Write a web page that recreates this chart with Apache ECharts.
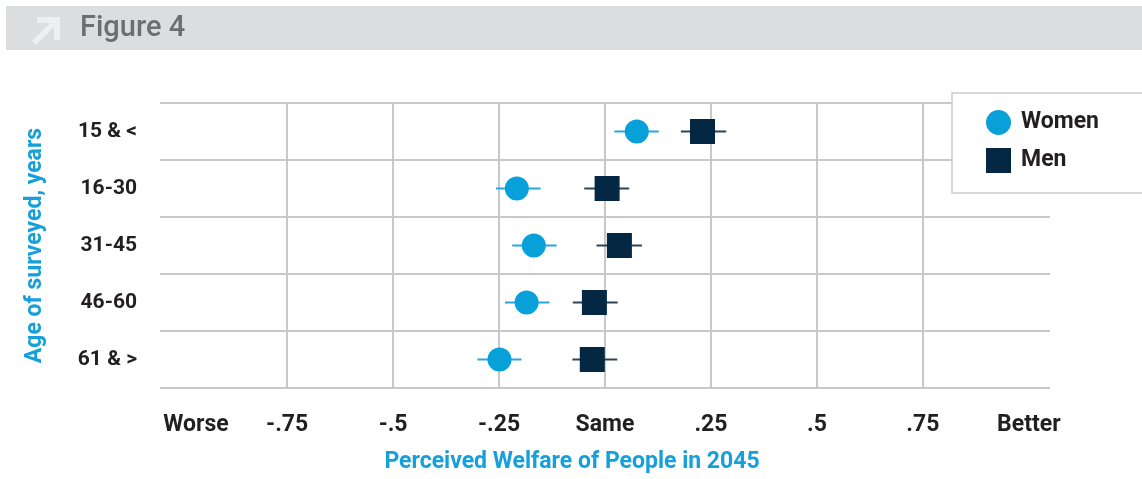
<!DOCTYPE html>
<html lang="en">
<head>
    <meta charset="UTF-8">
    <title>Figure 4</title>
    <script type="text/javascript" src="https://cdn.jsdelivr.net/npm/echarts@6/dist/echarts.min.js"></script>
    <style>
        html, body { margin: 0; padding: 0; background: #fff; }
        #main { width: 1142px; height: 479px; }
    </style>
</head>
<body>
<div id="main"></div>
<script type="text/javascript">
    // age groups, top to bottom
    var ageGroups = ['15 & <', '16-30', '31-45', '46-60', '61 & >'];

    // point estimates
    var women = [0.075, -0.208, -0.168, -0.185, -0.249];
    var men = [0.23, 0.005, 0.034, -0.025, -0.03];

    // error bar ends
    var womenLow = [0.022, -0.257, -0.219, -0.236, -0.301];
    var womenHigh = [0.127, -0.152, -0.114, -0.131, -0.197];
    var menLow = [0.179, -0.049, -0.020, -0.076, -0.077];
    var menHigh = [0.286, 0.057, 0.087, 0.030, 0.029];

    // x axis: grid lines and labels
    var gridValues = [-0.75, -0.5, -0.25, 0, 0.25, 0.5, 0.75];
    var labelValues = [-0.965, -0.75, -0.5, -0.25, 0, 0.25, 0.5, 0.75, 1.0];
    var labelTexts = ['Worse', '-.75', '-.5', '-.25', 'Same', '.25', '.5', '.75', 'Better'];

    var font = 'Roboto';
    var myChart = echarts.init(document.getElementById('main'));

    function pts(vals) {
        var out = [];
        for (var i = 0; i < vals.length; i++) out.push([vals[i], i]);
        return out;
    }
    function bars(lo, hi) {
        var out = [];
        for (var i = 0; i < lo.length; i++) out.push([lo[i], hi[i], i]);
        return out;
    }
    // horizontal error bar drawn through the axes' own scales
    function errorBar(color) {
        return function (params, api) {
            var a = api.coord([api.value(0), api.value(2)]);
            var b = api.coord([api.value(1), api.value(2)]);
            return {
                type: 'line',
                shape: { x1: a[0], y1: a[1], x2: b[0], y2: b[1] },
                style: { stroke: color, lineWidth: 2 }
            };
        };
    }

    var option = {
        animation: false,
        textStyle: { fontFamily: font },
        graphic: [
            { type: 'rect', left: 6, top: 6, shape: { width: 1136, height: 44 }, style: { fill: '#dcdddf' }, z: 0 },
            { type: 'polygon', shape: { points: [[37, 17], [60, 17], [60, 40], [54, 40], [54, 27], [36, 45], [32, 41], [50, 23], [37, 23]] }, style: { fill: '#eeeff0' } },
            { type: 'text', left: 80, top: 14, style: { text: 'Figure 4', fill: '#6d6e70', font: '500 29px ' + font } }
        ],
        legend: {
            orient: 'vertical',
            left: 952,
            top: 93,
            padding: [17, 60, 20, 34],
            itemGap: 13,
            itemWidth: 25,
            itemHeight: 25,
            backgroundColor: '#fff',
            borderColor: '#cccccc',
            borderWidth: 1.5,
            borderRadius: 0,
            textStyle: { fontSize: 23, fontWeight: 'bold', color: '#231f20', fontFamily: font, padding: [0, 0, 0, 5] },
            data: [
                { name: 'Women', icon: 'circle' },
                { name: 'Men', icon: 'rect' }
            ]
        },
        grid: { left: 160, right: 92, top: 103, bottom: 87 },
        xAxis: {
            type: 'value',
            min: -1.05,
            max: 1.05,
            name: 'Perceived Welfare of People in 2045',
            nameLocation: 'middle',
            nameGap: 63,
            nameTextStyle: { color: '#16a0db', fontSize: 23, fontWeight: 'bold', padding: [0, 66, 0, 0] },
            axisLine: { lineStyle: { color: '#c8c8c8', width: 2 } },
            axisTick: { show: false, customValues: gridValues },
            splitLine: { show: true, lineStyle: { color: '#c8c8c8', width: 2 } },
            axisLabel: {
                customValues: labelValues,
                margin: 26,
                fontSize: 23,
                fontWeight: 'bold',
                color: '#231f20',
                formatter: function (v) {
                    for (var i = 0; i < labelValues.length; i++) {
                        if (Math.abs(labelValues[i] - v) < 1e-6) return labelTexts[i];
                    }
                    return '';
                }
            }
        },
        yAxis: {
            type: 'category',
            inverse: true,
            data: ageGroups,
            name: 'Age of surveyed, years',
            nameLocation: 'middle',
            nameRotate: 90,
            nameGap: 113,
            nameTextStyle: { color: '#16a0db', fontSize: 23, fontWeight: 'bold' },
            axisLine: { show: false },
            axisTick: { show: false },
            splitLine: { show: true, lineStyle: { color: '#c8c8c8', width: 2 } },
            axisLabel: { margin: 23, fontSize: 21, fontWeight: 'bold', color: '#231f20' }
        },
        series: [
            {
                type: 'custom',
                renderItem: errorBar('#2aa6dc'),
                encode: { x: [0, 1], y: 2 },
                data: bars(womenLow, womenHigh),
                z: 2
            },
            {
                type: 'custom',
                renderItem: errorBar('#2d4458'),
                encode: { x: [0, 1], y: 2 },
                data: bars(menLow, menHigh),
                z: 2
            },
            {
                name: 'Women',
                type: 'scatter',
                symbol: 'circle',
                symbolSize: 24,
                itemStyle: { color: '#07a0d9', opacity: 1 },
                data: pts(women),
                z: 3
            },
            {
                name: 'Men',
                type: 'scatter',
                symbol: 'rect',
                symbolSize: 25,
                itemStyle: { color: '#042843', opacity: 1 },
                data: pts(men),
                z: 3
            }
        ]
    };
    myChart.setOption(option);
</script>
</body>
</html>
